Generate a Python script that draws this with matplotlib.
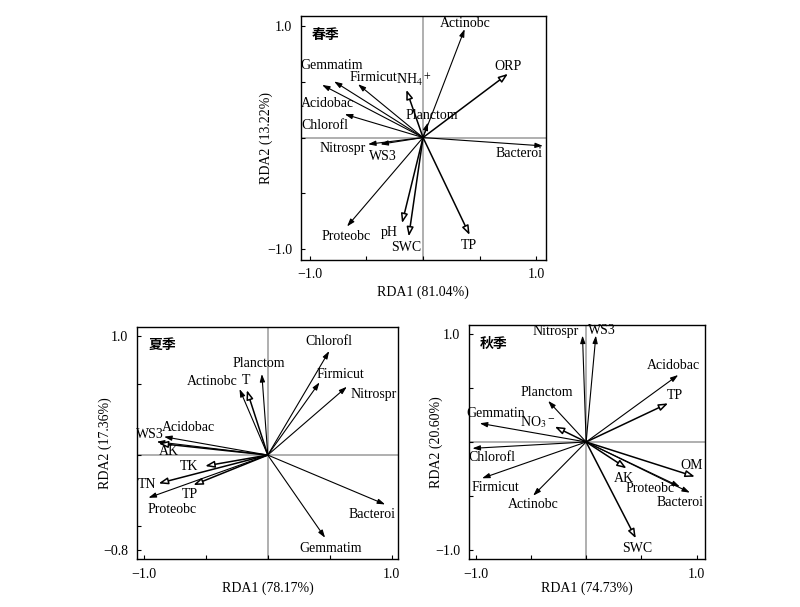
"""
三季 RDA 双序图 (春季 / 夏季 / 秋季) — 细菌门 vs 环境因子
"""
import matplotlib

matplotlib.use('Agg')
import matplotlib.pyplot as plt

plt.rcParams['font.family'] = ['Liberation Serif', 'Noto Sans CJK SC', 'DejaVu Sans']
plt.rcParams['mathtext.fontset'] = 'stix'
plt.rcParams['axes.unicode_minus'] = True

# ---------------- 春季 ----------------
spr_sp_names = ['Actinobc', 'Gemmatim', 'Firmicut', 'Acidobac', 'Chlorofl', 'Planctom',
                'Nitrospr', 'WS3', 'Bacteroi', 'Proteobc']
spr_sp_x = [0.367, -0.784, -0.573, -0.890, -0.690, 0.044, -0.485, -0.376, 1.057, -0.670]
spr_sp_y = [0.976, 0.505, 0.480, 0.474, 0.210, 0.135, -0.060, -0.060, -0.075, -0.800]
spr_env_names = ['NH$_4$$^+$', 'ORP', 'pH', 'SWC', 'TP']
spr_env_x = [-0.147, 0.749, -0.185, -0.126, 0.411]
spr_env_y = [0.430, 0.574, -0.770, -0.890, -0.877]

# ---------------- 夏季 ----------------
sum_sp_names = ['Chlorofl', 'Firmicut', 'Nitrospr', 'Planctom', 'Actinobc', 'Acidobac',
                'WS3', 'Proteobc', 'Bacteroi', 'Gemmatim']
sum_sp_x = [0.495, 0.417, 0.637, -0.048, -0.228, -0.836, -0.895, -0.962, 0.946, 0.462]
sum_sp_y = [0.874, 0.611, 0.574, 0.681, 0.555, 0.154, 0.112, -0.359, -0.415, -0.695]
sum_env_names = ['T', 'AK', 'TK', 'TN', 'TP']
sum_env_x = [-0.169, -0.880, -0.505, -0.880, -0.600]
sum_env_y = [0.546, 0.098, -0.092, -0.238, -0.252]

# ---------------- 秋季 ----------------
aut_sp_names = ['Nitrospr', 'WS3', 'Acidobac', 'Planctom', 'Gemmatin', 'Chlorofl',
                'Firmicut', 'Actinobc', 'Proteobc', 'Bacteroi']
aut_sp_x = [-0.033, 0.088, 0.834, -0.344, -0.964, -1.030, -0.943, -0.480, 0.849, 0.940]
aut_sp_y = [0.985, 0.985, 0.620, 0.380, 0.173, -0.059, -0.336, -0.497, -0.414, -0.469]
aut_env_names = ['TP', 'NO$_3$$^-$', 'AK', 'OM', 'SWC']
aut_env_x = [0.743, -0.284, 0.366, 0.985, 0.450]
aut_env_y = [0.358, 0.142, -0.244, -0.321, -0.892]

# 标签位置 (版式)
spr_lab = {'Actinobc': (0.376, 1.03), 'Gemmatim': (-0.81, 0.65), 'Firmicut': (-0.435, 0.54),
           'NH$_4$$^+$': (-0.08, 0.52), 'ORP': (0.75, 0.64), 'Acidobac': (-0.84, 0.31),
           'Planctom': (0.08, 0.20), 'Chlorofl': (-0.87, 0.11), 'Nitrospr': (-0.705, -0.096),
           'WS3': (-0.35, -0.17), 'Bacteroi': (0.85, -0.147), 'Proteobc': (-0.68, -0.89),
           'pH': (-0.30, -0.85), 'SWC': (-0.147, -0.99), 'TP': (0.40, -0.97)}
sum_lab = {'Chlorofl': (0.489, 0.952), 'Planctom': (-0.075, 0.77), 'Firmicut': (0.583, 0.678),
           'Actinobc': (-0.444, 0.616), 'T': (-0.177, 0.63), 'Nitrospr': (0.852, 0.51),
           'Acidobac': (-0.64, 0.232), 'WS3': (-0.949, 0.174), 'AK': (-0.80, 0.028),
           'TK': (-0.634, -0.092), 'TN': (-0.97, -0.244), 'TP': (-0.626, -0.328),
           'Proteobc': (-0.774, -0.457), 'Bacteroi': (0.839, -0.496), 'Gemmatim': (0.503, -0.784)}
aut_lab = {'Nitrospr': (-0.275, 1.02), 'WS3': (0.145, 1.03), 'Acidobac': (0.795, 0.707),
           'TP': (0.80, 0.43), 'Planctom': (-0.36, 0.46), 'Gemmatin': (-0.82, 0.265),
           'NO$_3$$^-$': (-0.435, 0.18), 'Chlorofl': (-0.85, -0.142), 'OM': (0.955, -0.219),
           'AK': (0.34, -0.336), 'Proteobc': (0.577, -0.435), 'Firmicut': (-0.82, -0.42),
           'Bacteroi': (0.849, -0.559), 'Actinobc': (-0.48, -0.583), 'SWC': (0.462, -0.985)}

FS = 10
fig = plt.figure(figsize=(8, 6.07), dpi=100)


def draw_panel(rect, season, sp, env, labs, xlim, ylim, yticks, xlab, ylab, xlab_y, ylab_x):
    ax = fig.add_axes(rect)
    ax.set_xlim(*xlim)
    ax.set_ylim(*ylim)
    ax.axhline(0, color='#9a9a9a', lw=1.1, zorder=1)
    ax.axvline(0, color='#9a9a9a', lw=1.1, zorder=1)
    for n, x, y in zip(*sp):
        ax.annotate('', xy=(x, y), xytext=(0, 0),
                    arrowprops=dict(arrowstyle='-|>,head_length=0.45,head_width=0.15',
                                    color='black', lw=0.8, shrinkA=0, shrinkB=0), zorder=3)
    for n, x, y in zip(*env):
        ax.annotate('', xy=(x, y), xytext=(0, 0),
                    arrowprops=dict(arrowstyle='-|>,head_length=0.55,head_width=0.2',
                                    fc='white', ec='black', lw=1.1, shrinkA=0, shrinkB=0), zorder=3)
    for n, (tx, ty) in labs.items():
        ax.text(tx, ty, n, fontsize=FS, ha='center', va='center', zorder=4)
    ax.text(0.045, 0.95, season, transform=ax.transAxes, fontsize=FS, fontweight='bold',
            family=['Noto Sans CJK SC'], ha='left', va='top')
    ax.set_xticks([-1.0, -0.5, 0, 0.5, 1.0])
    ax.set_xticklabels(['−1.0', '', '', '', '1.0'])
    ax.set_yticks(yticks)
    ax.set_yticklabels(['−%.1f' % abs(yticks[0])] + [''] * (len(yticks) - 2) + ['%.1f' % yticks[-1]])
    ax.tick_params(direction='in', length=3, width=0.8, labelsize=FS, pad=6)
    for s in ax.spines.values():
        s.set_linewidth(1.0)
    ax.set_xlabel(xlab, fontsize=FS)
    ax.set_ylabel(ylab, fontsize=FS)
    ax.xaxis.set_label_coords(0.5, xlab_y)
    ax.yaxis.set_label_coords(ylab_x, 0.5)
    return ax


draw_panel([0.376, 0.572, 0.306, 0.402], '春季',
           (spr_sp_names, spr_sp_x, spr_sp_y), (spr_env_names, spr_env_x, spr_env_y), spr_lab,
           (-1.078, 1.081), (-1.10, 1.096), [-1.0, -0.5, 0, 0.5, 1.0],
           'RDA1 (81.04%)', 'RDA2 (13.22%)', -0.105, -0.115)
draw_panel([0.171, 0.0786, 0.327, 0.383], '夏季',
           (sum_sp_names, sum_sp_x, sum_sp_y), (sum_env_names, sum_env_x, sum_env_y), sum_lab,
           (-1.056, 1.053), (-0.876, 1.078), [-0.8, -0.6, 0, 0.6, 1.0],
           'RDA1 (78.17%)', 'RDA2 (17.36%)', -0.095, -0.095)
draw_panel([0.586, 0.0786, 0.295, 0.386], '秋季',
           (aut_sp_names, aut_sp_x, aut_sp_y), (aut_env_names, aut_env_x, aut_env_y), aut_lab,
           (-1.063, 1.075), (-1.086, 1.083), [-1.0, -0.5, 0, 0.5, 1.0],
           'RDA1 (74.73%)', 'RDA2 (20.60%)', -0.095, -0.11)

plt.savefig('out.png', dpi=100)
plt.close()
